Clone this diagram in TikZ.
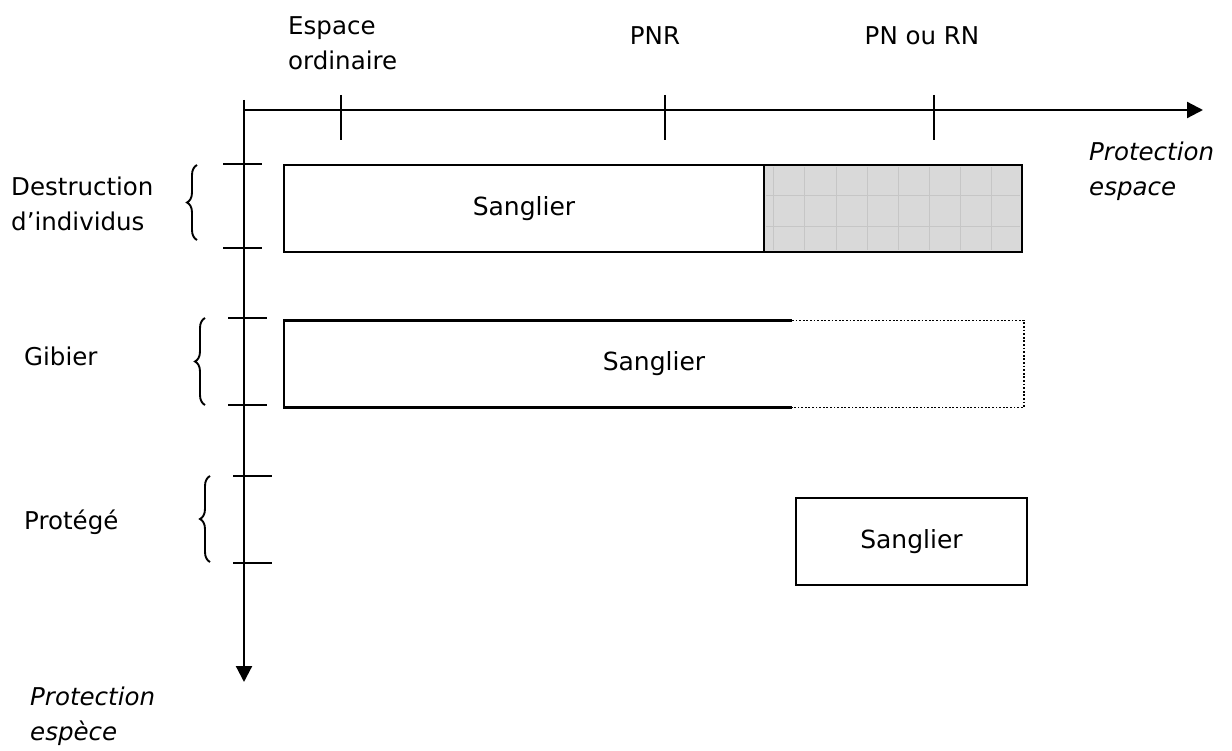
\documentclass[tikz,border=0pt]{standalone}
\usepackage{fontspec}
\setmainfont{DejaVu Sans}
\usetikzlibrary{arrows.meta,decorations.pathreplacing}
\tikzset{axe/.style={line width=2.2pt, -{Triangle[length=16pt,width=16pt]}},
  tic/.style={line width=2pt},
  acc/.style={line width=1.9pt, decorate, decoration={brace,amplitude=10pt}},
  boite/.style={draw, line width=2.8pt, minimum height=87pt, inner sep=0pt, outer sep=0pt, font=\fontsize{25}{30}\selectfont},
  grille/.style={gray!45, line width=0.8pt},
  lbl/.style={font=\fontsize{24.5}{35}\selectfont, align=left, inner sep=0pt},
  ital/.style={lbl, font=\fontsize{24.5}{35}\selectfont\itshape}}

\begin{document}
\begin{tikzpicture}[x=1pt,y=-1pt]
  \useasboundingbox (0,0) rectangle (1232,751);
  % axes
  \coordinate (O) at (244,110);
  \coordinate (haut) at (244,100);
  \coordinate (xmax) at (1203,110);
  \coordinate (ymax) at (244,682);
  \draw[axe] (O) -- (xmax);
  \draw[axe] (haut) -- (ymax);
  \foreach \x in {341,665,934}
    \draw[tic] (\x,95) -- (\x,140);
  \foreach \y/\a in {164/223,248/223,318/228,405/228,476/233,563/233}
    \draw[tic] (\a,\y) -- ++(39,0);
  % accolades
  \draw[acc] (197,240) -- (197,165);
  \draw[acc] (205,405) -- (205,318);
  \draw[acc] (210,562) -- (210,476);
  % etiquettes
  \node[lbl, anchor=west] (esp) at (288,43) {Espace\\ordinaire};
  \node[lbl] (pnr) at (655,36) {PNR};
  \node[lbl] (pn) at (922,36) {PN ou RN};
  \node[ital, anchor=west] (pesp) at (1089,171) {Protection\\espace};
  \node[lbl, anchor=west] (destr) at (11,204) {Destruction\\d’individus};
  \node[lbl, anchor=west] (gib) at (24,356) {Gibier};
  \node[lbl, anchor=west] (prot) at (24,522) {Protégé};
  \node[ital, anchor=west] (pspe) at (30,716) {Protection\\espèce};
  % destruction
  \node[boite, minimum width=480pt] (s1) at (524,208.5) {Sanglier};
  \node[boite, minimum width=258pt, fill=gray!30] (h1) at (893,208.5) {};
  \foreach \x in {773,804,836,867,898,929,960,991}
    \draw[grille] (\x,167) -- (\x,250);
  \foreach \y in {195,226}
    \draw[grille] (766,\y) -- (1020,\y);
  % gibier
  \node[boite, draw=none, minimum width=740pt] (s2) at (654,364) {Sanglier};
  \coordinate (coupe) at (792,0);
  \draw[line width=2.8pt] (coupe |- s2.north) -- (s2.north west) -- (s2.south west) -- (coupe |- s2.south);
  \draw[line width=1.8pt, dash pattern=on 1.8pt off 1.8pt] (coupe |- s2.north) -- (s2.north east) -- (s2.south east) -- (coupe |- s2.south);
  % protege
  \node[boite, minimum width=231pt] (s3) at (911.5,541.5) {Sanglier};
\end{tikzpicture}
\end{document}
